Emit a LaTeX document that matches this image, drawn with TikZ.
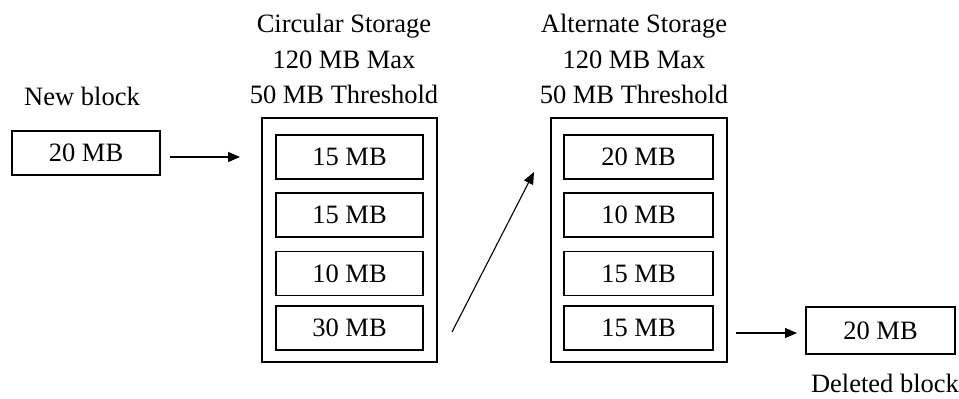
\documentclass[tikz,border=0pt]{standalone}
\usepackage{fontspec}
\setmainfont{Liberation Serif}
\usetikzlibrary{arrows.meta}
\begin{document}
\begin{tikzpicture}[x=1pt,y=-1pt,
  every node/.style={font=\fontsize{26.5}{31}\selectfont},
  blk/.style={draw,line width=1.2pt,inner sep=0pt,minimum width=148pt,minimum height=44pt},
  outer/.style={draw,line width=1.2pt,inner sep=0pt,minimum width=175pt,minimum height=244pt},
  lbl/.style={anchor=base,inner sep=0pt},
  arr/.style={line width=1.1pt,-{Triangle[length=12pt,width=10pt]}}]
\useasboundingbox (0,0) rectangle (959,399);
% new block
\node[lbl] (newl) at (82,105) {New block};
\node[blk] (new) at (86,153) {20 MB};
% circular storage
\node[lbl] (c1) at (344,32) {Circular Storage};
\node[lbl] (c2) at (344,68) {120 MB Max};
\node[lbl] (c3) at (344,103) {50 MB Threshold};
\node[outer] (cs) at (349.5,240) {};
\node[blk,minimum width=147pt] (ca) at (349.5,157) {15 MB};
\node[blk,minimum width=147pt] (cb) at (349.5,215) {15 MB};
\node[blk,minimum width=147pt] (cc) at (349.5,273.5) {10 MB};
\node[blk,minimum width=147pt] (cd) at (349.5,328) {30 MB};
% alternate storage
\node[lbl] (a1) at (634,32) {Alternate Storage};
\node[lbl] (a2) at (634,68) {120 MB Max};
\node[lbl] (a3) at (634,103) {50 MB Threshold};
\node[outer,minimum width=176pt] (as) at (639,240) {};
\node[blk,minimum width=149pt] (aa) at (638.5,157) {20 MB};
\node[blk,minimum width=149pt] (ab) at (638.5,215) {10 MB};
\node[blk,minimum width=149pt] (ac) at (638.5,273.5) {15 MB};
\node[blk,minimum width=149pt] (ad) at (638.5,328) {15 MB};
% deleted block
\node[blk,minimum width=149pt,minimum height=47pt] (del) at (880.5,330.5) {20 MB};
\node[lbl] (dell) at (885,392) {Deleted block};
% arrows
\coordinate (p1) at (170,157);
\coordinate (p2) at (240,157);
\coordinate (q1) at (452,332);
\coordinate (q2) at (534,172);
\coordinate (r1) at (736,333);
\coordinate (r2) at (797,333);
\draw[arr] (p1) -- (p2);
\draw[arr] (q1) -- (q2);
\draw[arr] (r1) -- (r2);
\end{tikzpicture}
\end{document}
